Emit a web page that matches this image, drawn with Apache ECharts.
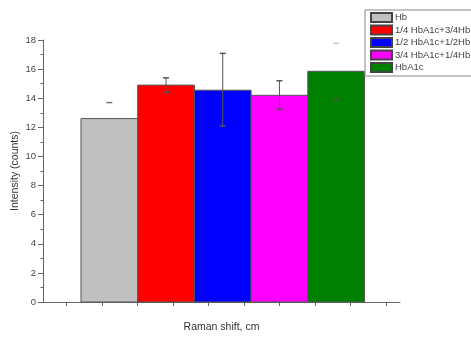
<!DOCTYPE html>
<html><head><meta charset="utf-8">
<script src="https://cdn.jsdelivr.net/npm/echarts@6/dist/echarts.min.js"></script>
<style>html,body{margin:0;padding:0;background:#fff}#c{width:471px;height:345px}</style>
</head><body><div id="c"></div>
<script>
const categories = ['Hb', '1/4 HbA1c+3/4Hb', '1/2 HbA1c+1/2Hb', '3/4 HbA1c+1/4Hb', 'HbA1c'];
const values = [12.6, 14.9, 14.55, 14.2, 15.85];
const errHigh = [13.7, 15.4, 17.08, 15.2, 17.77];
const errLow = [null, 14.4, 12.09, 13.23, 13.94];
const yTicks = [0, 2, 4, 6, 8, 10, 12, 14, 16, 18];

const colors = ['#c0c0c0', '#ff0000', '#0000ff', '#ff00ff', '#008000'];
const stemShown = [false, true, true, true, false];
const capColors = ['#777', '#555', '#555', '#555', '#555'];
const capTopColors = ['#777', '#555', '#555', '#555', '#ccc'];
const OFFSET = 1.17;
const FONT = 'Liberation Sans, Arial, sans-serif';

const chart = echarts.init(document.getElementById('c'), null, {renderer: 'canvas'});

const barSeries = categories.map((name, i) => ({
  type: 'custom', name: name, xAxisIndex: 0, yAxisIndex: 0,
  itemStyle: {color: colors[i], borderColor: '#444', borderWidth: 1},
  data: [[i, values[i]]],
  z: 2,
  renderItem: function (params, api) {
    const pos = api.value(0) + OFFSET;
    const p1 = api.coord([pos - 0.5, api.value(1)]);
    const p2 = api.coord([pos + 0.5, 0]);
    return {type: 'rect', shape: {x: p1[0], y: p1[1], width: p2[0] - p1[0], height: p2[1] - p1[1]},
      style: {fill: colors[i], stroke: '#555', lineWidth: 1}};
  }
}));

const errSeries = {
  type: 'custom', name: 'err', xAxisIndex: 0, yAxisIndex: 0, z: 5, silent: true,
  data: categories.map((c, i) => [i, errLow[i] == null ? NaN : errLow[i], errHigh[i]]),
  renderItem: function (params, api) {
    const i = api.value(0);
    const pos = i + OFFSET;
    const lo = api.value(1), hi = api.value(2);
    const children = [];
    const top = api.coord([pos, hi]);
    const cw = 3;
    children.push({type: 'line', shape: {x1: top[0] - cw, y1: top[1], x2: top[0] + cw, y2: top[1]},
      style: {stroke: capTopColors[i], lineWidth: 1.5}});
    if (!isNaN(lo)) {
      const bot = api.coord([pos, lo]);
      children.push({type: 'line', shape: {x1: bot[0] - cw, y1: bot[1], x2: bot[0] + cw, y2: bot[1]},
        style: {stroke: capColors[i], lineWidth: 1.5}});
      if (stemShown[i]) {
        children.push({type: 'line', shape: {x1: top[0], y1: top[1], x2: bot[0], y2: bot[1]},
          style: {stroke: '#555', lineWidth: 1}});
      }
    }
    return {type: 'group', children: children};
  }
};

chart.setOption({
  animation: false,
  backgroundColor: '#fff',
  textStyle: {fontFamily: FONT},
  grid: [
    {left: 43, right: 71, top: 40, bottom: 43, containLabel: false, outerBoundsMode: 'none'},
    {left: 66.7, right: 85, top: 40, bottom: 43, containLabel: false, outerBoundsMode: 'none'}
  ],
  legend: {
    data: categories, orient: 'vertical', left: 365, top: 10,
    itemWidth: 21, itemHeight: 9, itemGap: 1.5, icon: 'rect',
    padding: [2, 8, 3, 5], borderColor: '#888', borderWidth: 1,
    textStyle: {fontSize: 9.5, lineHeight: 10, color: '#444', fontFamily: FONT, padding: [0, 0, 0, -2]}
  },
  xAxis: [
    {type: 'value', gridIndex: 0, min: 0, max: 6.296,
      name: 'Raman shift, cm', nameLocation: 'middle', nameGap: 20, nameMoveOverlap: false,
      nameTextStyle: {fontSize: 10.5, color: '#333', fontFamily: FONT},
      axisLine: {show: true, lineStyle: {color: '#666', width: 1}},
      axisTick: {show: false}, axisLabel: {show: false}, splitLine: {show: false}},
    {type: 'value', gridIndex: 1, min: 0, max: 9, interval: 1,
      axisLine: {show: false}, axisTick: {show: true, length: 4, lineStyle: {color: '#666'}},
      axisLabel: {show: false}, splitLine: {show: false}}
  ],
  yAxis: [
    {type: 'value', gridIndex: 0, min: yTicks[0], max: yTicks[yTicks.length - 1], interval: 2,
      name: 'Intensity (counts)', nameLocation: 'middle', nameGap: 22, nameRotate: 90, nameMoveOverlap: false,
      nameTextStyle: {fontSize: 10.5, color: '#333', fontFamily: FONT},
      axisLine: {show: true, lineStyle: {color: '#666', width: 1}},
      axisTick: {show: true, length: 5, lineStyle: {color: '#666'}},
      minorTick: {show: true, splitNumber: 2, length: 2.5, lineStyle: {color: '#666'}},
      axisLabel: {fontSize: 9.5, color: '#444', margin: 7, fontFamily: FONT},
      splitLine: {show: false}},
    {type: 'value', gridIndex: 1, min: 0, max: 18, show: false}
  ],
  series: barSeries.concat([errSeries])
});
</script></body></html>
